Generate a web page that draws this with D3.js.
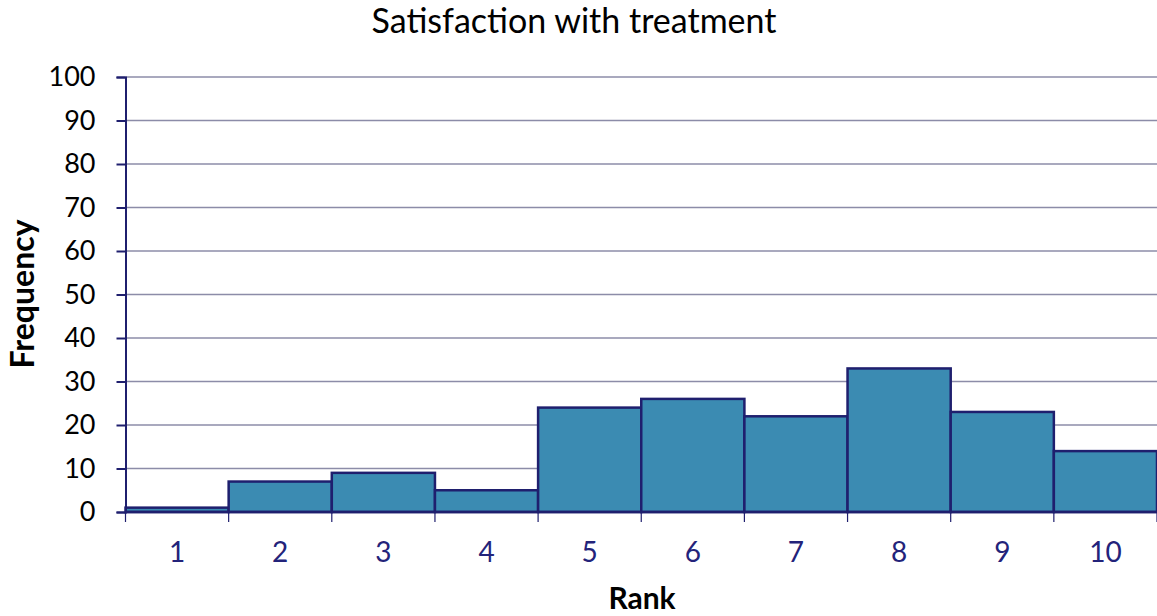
<!DOCTYPE html>
<html><head><meta charset="utf-8">
<script src="https://cdn.jsdelivr.net/npm/d3@7"></script>
<style>body{margin:0;background:#fff}svg{display:block}text{font-family:Lato,"Open Sans",sans-serif}</style>
</head><body>
<svg id="c" width="1157" height="616"></svg>
<script>
const categories = ["1","2","3","4","5","6","7","8","9","10"];
const frequency = [1,7,9,5,24,26,22,33,23,14];
const yTicks = [0,10,20,30,40,50,60,70,80,90,100];

const svg = d3.select("#c");
const m = {l:125.5, r:1157, t:77, b:512};
const x = d3.scaleBand().domain(categories).range([m.l, m.r]).padding(0);
const y = d3.scaleLinear().domain([0,100]).range([m.b, m.t]);

// gridlines
svg.append("g").selectAll("line").data(yTicks.filter(d=>d>0)).join("line")
  .attr("x1", m.l).attr("x2", m.r).attr("y1", d=>y(d)).attr("y2", d=>y(d))
  .attr("stroke", "#8c8ca8").attr("stroke-width", 1.5);

// bars
svg.append("g").selectAll("rect").data(categories).join("rect")
  .attr("x", d=>x(d)).attr("width", x.bandwidth())
  .attr("y", (d,i)=>y(frequency[i])).attr("height", (d,i)=>y(0)-y(frequency[i]))
  .attr("fill", "#3b8bb2").attr("stroke", "#1f1f6e").attr("stroke-width", 2.5);

// y axis
const ya = svg.append("g").attr("transform", `translate(${m.l},0)`)
  .call(d3.axisLeft(y).tickValues(yTicks).tickSize(9).tickPadding(21));
ya.select(".domain").attr("stroke", "#1f1f6e").attr("stroke-width", 2);
ya.selectAll(".tick line").attr("stroke", "#1f1f6e").attr("stroke-width", 2);
ya.selectAll(".tick text").attr("font-size", 27).attr("fill", "#000").attr("font-family", "Lato");

// x axis
const xa = svg.append("g").attr("transform", `translate(0,${m.b})`)
  .call(d3.axisBottom(x).tickSize(0).tickPadding(30));
xa.select(".domain").remove();
svg.append("line").attr("x1", m.l).attr("x2", m.r).attr("y1", m.b).attr("y2", m.b)
  .attr("stroke", "#1f1f6e").attr("stroke-width", 2.5);
const bounds = categories.map(d=>x(d)).concat([m.r]);
svg.append("g").selectAll("line").data(bounds).join("line")
  .attr("x1", d=>d).attr("x2", d=>d).attr("y1", m.b).attr("y2", m.b+10)
  .attr("stroke", "#1f1f6e").attr("stroke-width", 1.2);
xa.selectAll(".tick text").attr("font-size", 28).attr("fill", "#23237a").attr("font-family", "Lato");

// titles
svg.append("text").attr("x", 574).attr("y", 33).attr("text-anchor", "middle")
  .attr("font-size", 34).attr("fill", "#000").text("Satisfaction with treatment");
svg.append("text").attr("transform", "translate(34,294) rotate(-90)").attr("text-anchor", "middle")
  .attr("font-size", 32).attr("font-weight", "bold").attr("fill", "#000").text("Frequency");
svg.append("text").attr("x", 642).attr("y", 609).attr("text-anchor", "middle")
  .attr("font-size", 30).attr("font-weight", "bold").attr("fill", "#000").text("Rank");
</script>
</body></html>
